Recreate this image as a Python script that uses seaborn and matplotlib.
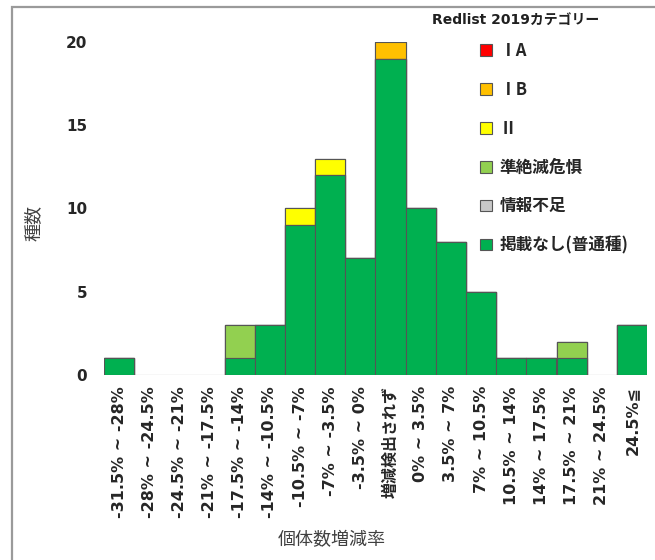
import matplotlib
matplotlib.use('Agg')
import matplotlib.pyplot as plt
from matplotlib.patches import Patch, Rectangle
import seaborn as sns
import numpy as np

sns.set_style('white')
plt.rcParams['font.family'] = ['DejaVu Sans', 'Noto Sans CJK JP']

# 個体数増減率のクラス
categories = ['-31.5% ~ -28%', '-28% ~ -24.5%', '-24.5% ~ -21%', '-21% ~ -17.5%',
              '-17.5% ~ -14%', '-14% ~ -10.5%', '-10.5% ~ -7%', '-7% ~ -3.5%',
              '-3.5% ~ 0%', '増減検出されず', '0% ~ 3.5%', '3.5% ~ 7%',
              '7% ~ 10.5%', '10.5% ~ 14%', '14% ~ 17.5%', '17.5% ~ 21%',
              '21% ~ 24.5%', '24.5%≦']

# Redlist 2019 カテゴリー別の種数
ia = [0, 0, 0, 0, 0, 0, 0, 0, 0, 0, 0, 0, 0, 0, 0, 0, 0, 0]
ib = [0, 0, 0, 0, 0, 0, 0, 0, 0, 1, 0, 0, 0, 0, 0, 0, 0, 0]
ii = [0, 0, 0, 0, 0, 0, 1, 1, 0, 0, 0, 0, 0, 0, 0, 0, 0, 0]
nt = [0, 0, 0, 0, 2, 0, 0, 0, 0, 0, 0, 0, 0, 0, 0, 1, 0, 0]
dd = [0, 0, 0, 0, 0, 0, 0, 0, 0, 0, 0, 0, 0, 0, 0, 0, 0, 0]
lc = [1, 0, 0, 0, 1, 3, 9, 12, 7, 19, 10, 8, 5, 1, 1, 1, 0, 3]

labels = ['ⅠA', 'ⅠB', 'Ⅱ', '準絶滅危惧', '情報不足', '掲載なし(普通種)']
colors = ['#FF0000', '#FFC000', '#FFFF00', '#92D050', '#C8C8C8', '#00B050']
edge = '#555555'

# 下から積み上げ (掲載なし -> 情報不足 -> 準絶滅危惧 -> Ⅱ -> ⅠB -> ⅠA)
stack_bottom_up = [lc, dd, nt, ii, ib, ia]
stack_colors = [colors[5], colors[4], colors[3], colors[2], colors[1], colors[0]]
cum = np.cumsum(np.array(stack_bottom_up, dtype=float), axis=0)

fig = plt.figure(figsize=(6.55, 5.6), dpi=100)
ax = fig.add_axes([104 / 655, 185 / 560, 543 / 655, 333 / 560])

ax.axhline(0, color='#d9d9d9', lw=1, zorder=0)
# 上の累積から順に描いて重ねる
for i in range(len(stack_bottom_up) - 1, -1, -1):
    sns.barplot(x=categories, y=cum[i], order=categories, color=stack_colors[i],
                saturation=1, width=1, edgecolor=edge, linewidth=0.8,
                errorbar=None, ax=ax)
for p in list(ax.patches):
    if p.get_height() == 0:
        p.remove()

ax.set_ylim(0, 20)
ax.set_xlim(-0.5, len(categories) - 0.5)
ax.set_yticks([0, 5, 10, 15, 20])
ax.tick_params(axis='y', length=0, pad=12, labelsize=11)
ax.tick_params(axis='x', length=0, pad=8, labelsize=11.5)
for t in ax.get_yticklabels():
    t.set_fontweight('bold')
ax.set_xticks(range(len(categories)))
ax.set_xticklabels(categories, rotation=90, fontweight='bold')
for s in ax.spines.values():
    s.set_visible(False)

ax.set_xlabel('個体数増減率', fontsize=13, color='#404040')
ax.xaxis.set_label_coords(0.42, -0.47)
ax.set_ylabel('種数', fontsize=13, color='#404040')
ax.yaxis.set_label_coords(-0.114, 0.455)

handles = [Patch(facecolor=c, edgecolor=edge, linewidth=0.8) for c in colors]
fig.text(432 / 655, 1 - 20 / 560, 'Redlist 2019カテゴリー', fontsize=10,
         fontweight='bold', color='#202020', ha='left', va='center')
leg = fig.legend(handles, labels, loc='upper left',
                 bbox_to_anchor=(480 / 655, 1 - 42 / 560), frameon=False,
                 borderpad=0, borderaxespad=0, handlelength=0.7,
                 handleheight=0.7, handletextpad=0.5, labelspacing=1.25,
                 prop={'family': ['Noto Sans CJK JP', 'DejaVu Sans'],
                       'size': 12, 'weight': 'bold'})

fig.patches.append(Rectangle((12 / 655, -0.1), 1.2, 1 - 7 / 560 + 0.1,
                             transform=fig.transFigure, fill=False,
                             edgecolor='#9a9a9a', linewidth=1.6))

fig.savefig('out.png', dpi=100)
